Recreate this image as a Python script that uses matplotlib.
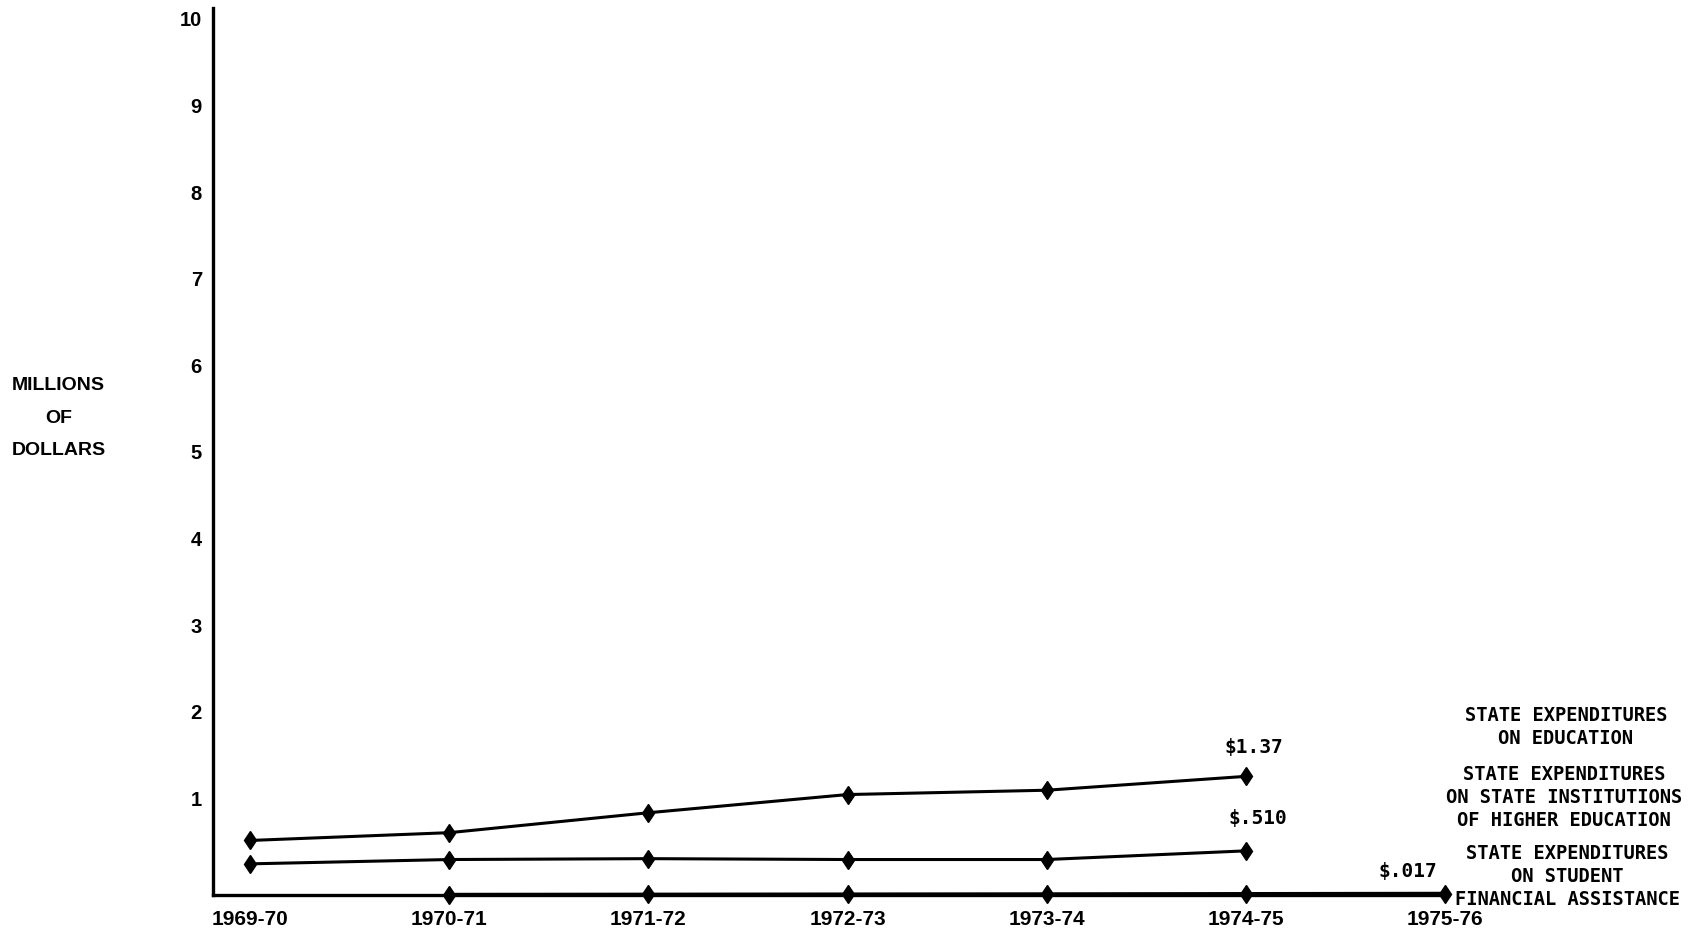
import matplotlib
matplotlib.use('Agg')
import matplotlib.pyplot as plt
import matplotlib.transforms as mtransforms

# data (millions of dollars)
years = ['1969-70', '1970-71', '1971-72', '1972-73', '1973-74', '1974-75', '1975-76']
education = [0.63, 0.72, 0.95, 1.16, 1.21, 1.37]
higher_ed = [0.36, 0.41, 0.42, 0.41, 0.41, 0.51]
student_aid = [0.005, 0.007, 0.009, 0.011, 0.014, 0.017]
yticks = [1, 2, 3, 4, 5, 6, 7, 8, 9, 10]

tick_font = ['Liberation Sans', 'DejaVu Sans']
type_font = ['DejaVu Sans Mono']

fig = plt.figure(figsize=(16.91, 9.38), dpi=100)
ax = fig.add_axes([0.126, 0.0458, 0.7285, 0.9457])

x_edu = list(range(0, 6))
x_aid = list(range(1, 7))

ax.plot(x_edu, education, color='black', lw=2.2, marker='d', ms=9.5,
        clip_on=False, zorder=3)
ax.plot(x_edu, higher_ed, color='black', lw=2.2, marker='d', ms=9.5,
        clip_on=False, zorder=3)
ax.plot(x_aid, student_aid, color='black', lw=2.6, marker='d', ms=9.5,
        clip_on=False, zorder=3)

ax.set_xlim(-0.186, 6.0)
ax.set_ylim(0, 10.24)

ax.spines['top'].set_visible(False)
ax.spines['right'].set_visible(False)
ax.spines['left'].set_linewidth(2.4)
ax.spines['bottom'].set_linewidth(2.4)

ax.set_xticks(range(len(years)))
ax.set_xticklabels(years, fontsize=15, fontweight='bold', family=tick_font)
ax.set_yticks(yticks)
ax.set_yticklabels([str(t) for t in yticks], fontsize=14.5, fontweight='bold',
                   family=tick_font)
ax.tick_params(axis='both', length=0)
ax.tick_params(axis='y', pad=8)
ax.tick_params(axis='x', pad=11)

# labels sit a bit above their gridline values in the original
shift = mtransforms.ScaledTranslation(0, 10 / 100, fig.dpi_scale_trans)
for lab in ax.get_yticklabels():
    lab.set_transform(lab.get_transform() + shift)

# value labels at the line ends
ax.annotate('$1.37', (5, education[-1]), xytext=(6, 21), textcoords='offset points',
            ha='center', va='center', fontsize=14, fontweight='bold', family=type_font)
ax.annotate('$.510', (5, higher_ed[-1]), xytext=(9, 23), textcoords='offset points',
            ha='center', va='center', fontsize=14, fontweight='bold', family=type_font)
ax.annotate('$.017', (6, student_aid[-1]), xytext=(-27, 16), textcoords='offset points',
            ha='center', va='center', fontsize=14, fontweight='bold', family=type_font)

# y axis title
fig.text(0.0345, 0.554, 'MILLIONS\nOF\nDOLLARS', ha='center', va='center',
         fontsize=14, fontweight='bold', family=['Liberation Sans', 'DejaVu Sans'],
         linespacing=2.2)

# series labels on the right
label_kw = dict(ha='center', va='center', fontsize=13.5, fontweight='bold',
                family=type_font, linespacing=1.27)
fig.text(0.926, 0.225, 'STATE EXPENDITURES\nON EDUCATION', **label_kw)
fig.text(0.925, 0.150, 'STATE EXPENDITURES\nON STATE INSTITUTIONS\nOF HIGHER EDUCATION',
         **label_kw)
fig.text(0.927, 0.066, 'STATE EXPENDITURES\nON STUDENT\nFINANCIAL ASSISTANCE',
         **label_kw)

fig.savefig('out.png', dpi=100)
